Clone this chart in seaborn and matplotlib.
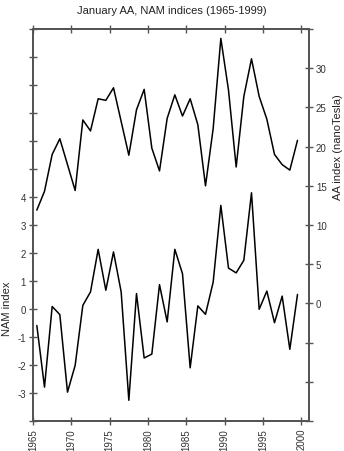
import numpy as np
import pandas as pd
import seaborn as sns
import matplotlib
matplotlib.use("Agg")
import matplotlib.pyplot as plt

# January values 1965-1999, plotted at mid-year
years = list(range(1965, 2000))
aa = [11.9, 14.3, 19.0, 21.0, 17.7, 14.4, 23.4, 22.0, 26.1, 25.9,
      27.5, 23.2, 18.9, 24.7, 27.3, 19.8, 16.9, 23.6, 26.6, 23.9,
      26.1, 22.8, 15.0, 22.3, 33.8, 27.2, 17.4, 26.4, 31.2, 26.4,
      23.5, 19.0, 17.7, 17.0, 20.8]
nam = [-0.59, -2.79, 0.09, -0.20, -2.97, -2.01, 0.13, 0.61, 2.13, 0.67,
       2.04, 0.61, -3.26, 0.55, -1.75, -1.61, 0.87, -0.46, 2.13, 1.26,
       -2.10, 0.11, -0.19, 0.96, 3.70, 1.46, 1.29, 1.74, 4.15, -0.01,
       0.64, -0.49, 0.46, -1.44, 0.52]

x_ticks = [1965, 1970, 1975, 1980, 1985, 1990, 1995, 2000]
nam_ticks = list(range(-4, 11))
nam_labels = ['', '-3', '-2', '-1', '0', '1', '2', '3', '4', '', '', '', '', '', '']
aa_ticks = list(range(-15, 36, 5))
aa_labels = ['', '', '', '0', '5', '10', '15', '20', '25', '30', '']

df = pd.DataFrame({'year': np.array(years) + 0.5, 'AA': aa, 'NAM': nam})

sns.set_theme(style="white")
plt.rcParams['font.family'] = ['Liberation Sans', 'DejaVu Sans']

grey = '#555555'
fig = plt.figure(figsize=(3.44, 4.52), dpi=100)
ax = fig.add_axes([33/344, 30/452, 276/344, 392/452])
ax2 = ax.twinx()

sns.lineplot(data=df, x='year', y='NAM', ax=ax, color='black', linewidth=1.1)
sns.lineplot(data=df, x='year', y='AA', ax=ax2, color='black', linewidth=1.1)

ax.set_xlim(1965, 2001)
ax.set_ylim(-4, 10)
ax2.set_ylim(-15, 35)

ax.set_xticks(x_ticks)
ax.set_xticklabels([str(t) for t in x_ticks], rotation=90)
ax.set_yticks(nam_ticks)
ax.set_yticklabels(nam_labels)
ax2.set_yticks(aa_ticks)
ax2.set_yticklabels(aa_labels)

for a in (ax, ax2):
    for s in a.spines.values():
        s.set_color(grey)
        s.set_linewidth(1.4)
        s.set_visible(True)
    a.tick_params(direction='inout', length=6, width=1, color=grey,
                  labelsize=7, labelcolor='#333333', pad=2)
ax.tick_params(axis='x', top=True, bottom=True, labeltop=False)
ax.tick_params(axis='y', left=True)
ax2.tick_params(axis='y', right=True)

ax.set_xlabel('')
ax.set_ylabel('NAM index', fontsize=8, color='#222222')
ax.yaxis.set_label_coords(-0.075, 0.29)
ax2.set_ylabel('AA index (nanoTesla)', fontsize=8, color='#222222')
ax2.yaxis.set_label_coords(1.087, 0.70)

fig.text(0.5, 1 - 11/452, 'January AA, NAM indices (1965-1999)',
         ha='center', va='center', fontsize=8, color='#222222')

fig.savefig('out.png', dpi=100)
